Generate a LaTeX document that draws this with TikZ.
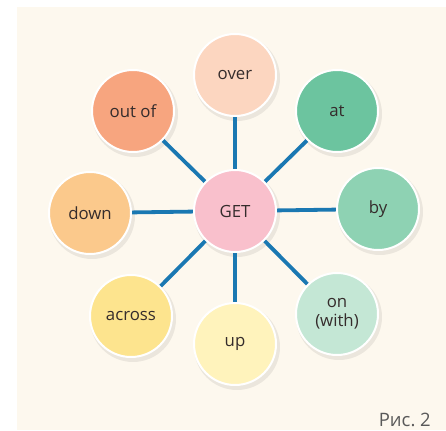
\documentclass[tikz,border=0pt]{standalone}
\usepackage{fontspec}
\setmainfont{Open Sans}
\definecolor{bgc}{HTML}{FDF8EE}
\definecolor{linec}{HTML}{1A78B2}
\definecolor{txt}{HTML}{352C2C}
\definecolor{cget}{HTML}{F9C0CC}
\definecolor{cover}{HTML}{FCD6C0}
\definecolor{cat}{HTML}{6CC49F}
\definecolor{cby}{HTML}{8ED2B3}
\definecolor{con}{HTML}{C4E7D5}
\definecolor{cup}{HTML}{FFF3BC}
\definecolor{cacross}{HTML}{FDE48E}
\definecolor{cdown}{HTML}{FBC98C}
\definecolor{cout}{HTML}{F7A57F}
\begin{document}
\begin{tikzpicture}[x=1pt,y=-1pt,
  bubble/.style={circle,draw=white,line width=2pt,minimum size=82pt,inner sep=0pt,
    text=txt,font=\fontsize{16.8}{19}\selectfont,align=center},
  shade/.style={circle,fill=black,opacity=0.07,minimum size=86pt,inner sep=0pt},
  link/.style={draw=linec,line width=3.8pt}]
\useasboundingbox (0,0) rectangle (446,430);
\fill[white] (0,0) rectangle (446,430);
\fill[bgc] (17,7) rectangle (446,430);
% shadows
\foreach \px/\py in {235/211,235/75,337/111,378/209,337/314,235/344,131/316,90/213,133/111}
  \node[shade] at (\px+2,\py+3) {};
% centre coordinates for lines
\coordinate (cGET) at (235,211);
\coordinate (cover) at (235,75);
\coordinate (cat) at (337,111);
\coordinate (cby) at (378,209);
\coordinate (con) at (337,314);
\coordinate (cup) at (235,344);
\coordinate (cacross) at (131,316);
\coordinate (cdown) at (90,213);
\coordinate (cout) at (133,111);
\foreach \n in {cover,cat,cby,con,cup,cacross,cdown,cout}
  \draw[link] (cGET) -- (\n);
\node[bubble,fill=cget] (get) at (cGET) {GET};
\node[bubble,fill=cover] (over) at (cover) {over};
\node[bubble,fill=cat] (at) at (cat) {at};
\node[bubble,fill=cby] (by) at (cby) {by};
\node[bubble,fill=con] (on) at (con) {on\\(with)};
\node[bubble,fill=cup] (up) at (cup) {up};
\node[bubble,fill=cacross] (across) at (cacross) {across};
\node[bubble,fill=cdown] (down) at (cdown) {down};
\node[bubble,fill=cout] (outof) at (cout) {out of};
\node[anchor=base east,inner sep=0pt,text=black!65,font=\fontsize{18.5}{18.5}\selectfont] (fig) at (431,426) {Рис.\ 2};
\end{tikzpicture}
\end{document}
